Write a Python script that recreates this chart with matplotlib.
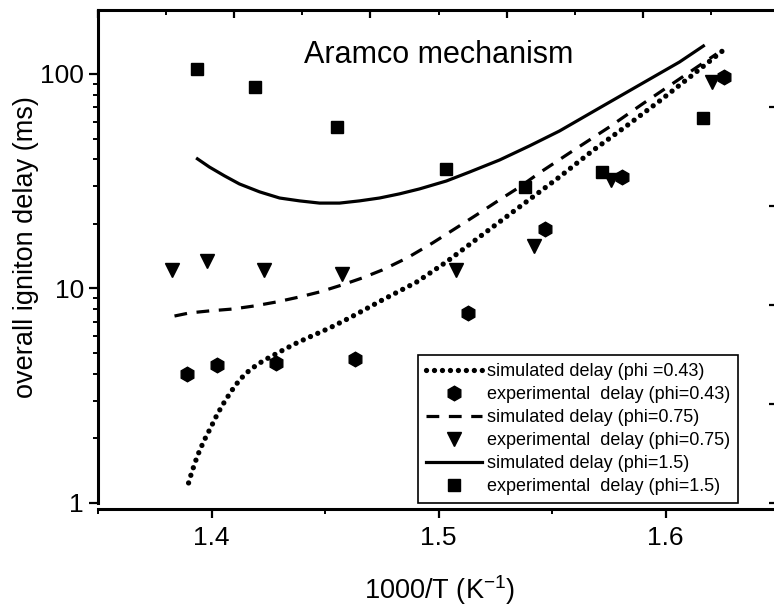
import numpy as np
import matplotlib
matplotlib.use("Agg")
import matplotlib.pyplot as plt
from matplotlib.ticker import MultipleLocator, FixedLocator, NullFormatter, LogLocator

plt.rcParams['font.family'] = ['Liberation Sans', 'DejaVu Sans']
plt.rcParams['mathtext.default'] = 'regular'

# simulated delay curves (1000/T, ms)
sim043_x = [1.3899, 1.3912, 1.3930, 1.3947, 1.3969, 1.3996, 1.4026, 1.4057, 1.4088, 1.4123,
            1.4154, 1.4181, 1.4212, 1.4242, 1.4300, 1.4366, 1.4432, 1.4520, 1.4608, 1.4753,
            1.4903, 1.5035, 1.5181, 1.5357, 1.5533, 1.5678, 1.5828, 1.5974, 1.6119, 1.6251]
sim043_y = [1.24, 1.38, 1.57, 1.75, 1.97, 2.24, 2.60, 2.96, 3.33, 3.74,
            4.04, 4.26, 4.49, 4.69, 5.06, 5.51, 5.94, 6.54, 7.29, 8.84,
            10.7, 13.3, 17.4, 24.0, 33.1, 43.8, 57.2, 74.8, 98.9, 128]

sim075_x = [1.3837, 1.3903, 1.3991, 1.4093, 1.4189, 1.4286, 1.4388, 1.4476, 1.4577, 1.4665,
            1.4753, 1.4863, 1.4974, 1.5093, 1.5181, 1.5269, 1.5357, 1.5445, 1.5577, 1.5753,
            1.5899, 1.6049, 1.6225]
sim075_y = [7.44, 7.69, 7.86, 8.02, 8.29, 8.65, 9.13, 9.63, 10.4, 11.2,
            12.2, 13.9, 16.3, 19.6, 22.5, 25.9, 29.7, 34.6, 42.8, 56.6,
            72.5, 92.8, 124]

sim15_x = [1.3938, 1.3991, 1.4057, 1.4123, 1.4212, 1.4300, 1.4388, 1.4476, 1.4564, 1.4652,
           1.4740, 1.4828, 1.4916, 1.5035, 1.5137, 1.5269, 1.5401, 1.5533, 1.5709, 1.5886,
           1.6062, 1.6167]
sim15_y = [40.2, 36.8, 33.5, 30.7, 28.2, 26.4, 25.6, 25.0, 25.0, 25.6,
           26.4, 27.6, 29.1, 31.7, 34.9, 39.7, 46.2, 54.2, 69.4, 88.9,
           113.7, 135]

# experimental points
exp043_x = [1.389, 1.4026, 1.4286, 1.463, 1.5128, 1.5467, 1.581, 1.6256]
exp043_y = [3.99, 4.40, 4.49, 4.69, 7.69, 18.9, 33.1, 96.8]

exp075_x = [1.3828, 1.3978, 1.4233, 1.4577, 1.5079, 1.5419, 1.5762, 1.6203]
exp075_y = [12.2, 13.4, 12.2, 11.7, 12.2, 15.8, 32.0, 91.8]

exp15_x = [1.3938, 1.419, 1.4555, 1.5035, 1.538, 1.572, 1.6167]
exp15_y = [105.5, 87, 56.6, 36.1, 29.7, 34.9, 62.4]

x_ticks = [1.4, 1.5, 1.6]
x_tick_labels = ['1.4', '1.5', '1.6']
y_ticks = [1, 10, 100]
y_tick_labels = ['1', '10', '100']

fig = plt.figure(figsize=(7.74, 6.10), dpi=100)
ax = fig.add_axes([98 / 774, 107 / 610, 681 / 774, 493 / 610])

ax.plot(sim043_x, sim043_y, color='black', lw=3.8, linestyle=(0, (0.01, 1.5)),
        dash_capstyle='round', label='simulated delay (phi =0.43)')
ax.plot(exp043_x, exp043_y, 'h', color='black', ms=10.5, linestyle='none',
        label='experimental  delay (phi=0.43)')
ax.plot(sim075_x, sim075_y, color='black', lw=2.3, linestyle=(0, (4, 3)),
        label='simulated delay (phi=0.75)')
ax.plot(exp075_x, exp075_y, 'v', color='black', ms=10.5, linestyle='none',
        label='experimental  delay (phi=0.75)')
ax.plot(sim15_x, sim15_y, color='black', lw=2.3, label='simulated delay (phi=1.5)')
ax.plot(exp15_x, exp15_y, 's', color='black', ms=8.8, linestyle='none',
        label='experimental  delay (phi=1.5)')

ax.set_yscale('log')
ax.set_xlim(1.35, 1.65)
ax.set_ylim(1, 198.6)

ax.xaxis.set_major_locator(FixedLocator(x_ticks))
ax.set_xticklabels(x_tick_labels)
ax.xaxis.set_minor_locator(MultipleLocator(0.05))
ax.yaxis.set_major_locator(FixedLocator(y_ticks))
ax.set_yticklabels(y_tick_labels)
ax.yaxis.set_minor_locator(LogLocator(base=10, subs=np.arange(2, 10)))
ax.yaxis.set_minor_formatter(NullFormatter())

ax.tick_params(axis='both', which='major', direction='out', length=6.2, width=1.6,
               labelsize=19, pad=4)
ax.tick_params(axis='both', which='minor', direction='out', length=3.4, width=1.4)
ax.tick_params(axis='x', which='major', pad=6)

for s in ['left', 'bottom', 'top', 'right']:
    ax.spines[s].set_linewidth(2.2)
ax.spines['bottom'].set_position(('outward', 4.3))

# tick rows on top and right belonging to neighbouring panels
ax_top = ax.twiny()
ax_top.set_xlim(0, 5.0)
ax_top.xaxis.set_major_locator(MultipleLocator(1))
ax_top.xaxis.set_minor_locator(MultipleLocator(0.5))
ax_top.tick_params(axis='x', which='major', direction='in', length=6, width=1.6, labeltop=False)
ax_top.tick_params(axis='x', which='minor', direction='in', length=3.5, width=1.4)
for s in ax_top.spines.values():
    s.set_visible(False)

ax_right = ax.twinx()
ax_right.set_ylim(0, 4.98)
ax_right.yaxis.set_major_locator(MultipleLocator(1))
ax_right.yaxis.set_minor_locator(MultipleLocator(0.5))
ax_right.tick_params(axis='y', which='major', direction='in', length=7, width=1.6, labelright=False)
ax_right.tick_params(axis='y', which='minor', direction='in', length=2, width=0.6, color='0.7')
for s in ax_right.spines.values():
    s.set_visible(False)

ax.text(0.5, 0.8925, 'Aramco mechanism', transform=ax.transAxes, ha='center',
        va='baseline', fontsize=22)

fig.text(26 / 774, 1 - 247 / 610, 'overall igniton delay (ms)', rotation=90,
         ha='center', va='center', fontsize=19.5)
fig.text(440 / 774, 1 - 590 / 610, '1000/T (K$^{-1}$)', ha='center', va='center', fontsize=19.5)

leg = ax.legend(loc='lower right', bbox_to_anchor=(738 / 774, 107 / 610),
                bbox_transform=fig.transFigure, borderaxespad=0, fontsize=13,
                fancybox=False, frameon=True, numpoints=1, handlelength=3.1,
                handletextpad=0.25, borderpad=0.45, labelspacing=0.33)
leg.get_frame().set_edgecolor('black')
leg.get_frame().set_linewidth(1.2)
leg.get_frame().set_alpha(1)

fig.savefig('out.png', dpi=100)
